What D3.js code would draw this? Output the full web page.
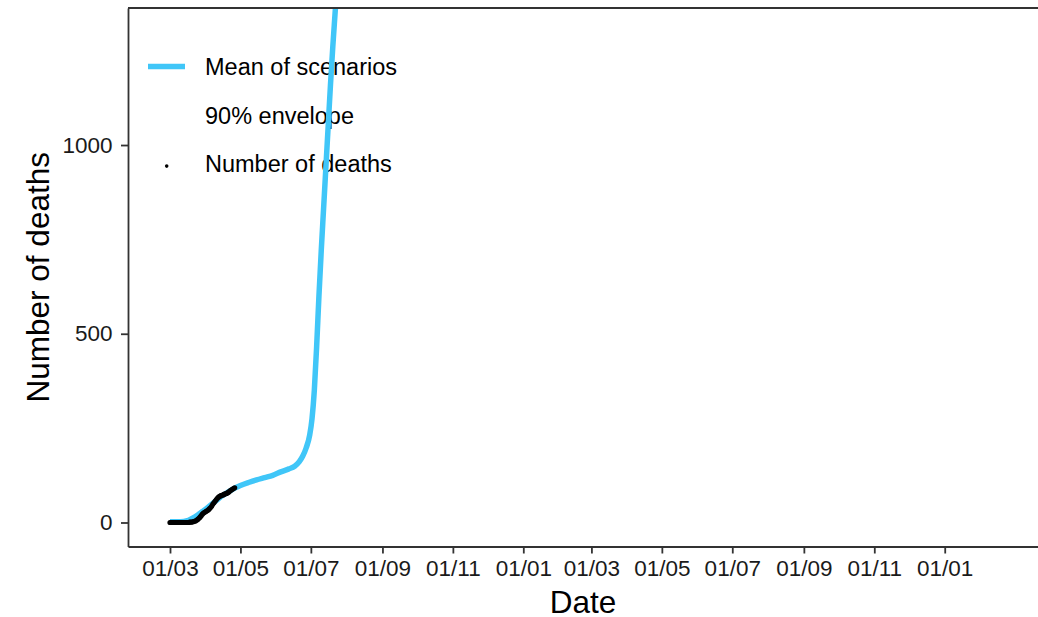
<!DOCTYPE html>
<html>
<head>
<meta charset="utf-8">
<script src="https://cdn.jsdelivr.net/npm/d3@7"></script>
<style>
  html, body { margin: 0; padding: 0; background: #fff; }
  svg { display: block; font-family: "Liberation Sans", Arial, Helvetica, sans-serif; }
</style>
</head>
<body>
<svg id="chart" width="1038" height="617"></svg>
<script>
// Mean of the simulated scenarios (cumulative deaths)
const meanDates = [
  "2020-03-01","2020-03-08","2020-03-13","2020-03-17","2020-03-21","2020-03-25",
  "2020-03-29","2020-04-02","2020-04-06","2020-04-10","2020-04-14","2020-04-18",
  "2020-04-22","2020-04-26","2020-05-01","2020-05-08","2020-05-15","2020-05-22",
  "2020-05-29","2020-06-05","2020-06-12","2020-06-17","2020-06-21","2020-06-24",
  "2020-06-27","2020-06-30","2020-07-02","2020-07-04","2020-07-06","2020-07-08",
  "2020-07-10","2020-07-12","2020-07-14","2020-07-16","2020-07-18","2020-07-20",
  "2020-07-22","2020-07-24","2020-07-27"
];
const meanValues = [
  2, 2, 3, 6, 12, 20,
  29, 38, 48, 58, 68, 76,
  84, 91, 98, 106, 113, 119,
  125, 134, 142, 149, 161, 176,
  198, 232, 275, 350, 465, 600,
  720, 830, 940, 1050, 1160, 1260,
  1350, 1440, 1570
];

// Observed cumulative deaths, one value per day from 1 March 2020
const obsStart = "2020-03-01";
const obsValues = [
  0, 0, 0, 0, 0, 0, 0, 0, 0, 0,
  0, 0, 0, 0, 0, 0, 0, 1, 1, 1,
  2, 3, 4, 6, 8, 11, 14, 18, 22, 25,
  27, 29, 31, 33, 36, 39, 43, 48, 52, 56,
  60, 64, 67, 69, 71, 72, 73, 75, 76, 77,
  79, 81, 84, 86, 88, 90, 92
];

// 90% envelope of the scenarios (no band drawn)
const envelopeDates = [];
const envelopeLow = [];
const envelopeHigh = [];

const xTickStart = "2020-03-01";
const xTickEnd = "2022-01-01";
const yTicks = [0, 500, 1000];
const legendLabels = ["Mean of scenarios", "90% envelope", "Number of deaths"];
const xTitle = "Date";
const yTitle = "Number of deaths";

const xDomain = ["2020-01-24T15:00:00Z", "2022-03-22T19:00:00Z"];
const yDomain = [-63.6, 1363];

const W = 1038, H = 617;
const panel = { left: 128, right: 1038, top: 8, bottom: 546.5 };
const BLUE = "#40C6F8";
const AXIS = "#333333";
const FONT_TICK = 22.5;
const FONT_LEGEND = 23.5;
const FONT_TITLE = 31.5;

const parse = d3.utcParse("%Y-%m-%d");
const meanData = meanDates.map((d, i) => ({ date: parse(d), value: meanValues[i] }));
const obsData = obsValues.map((v, i) => ({ date: d3.utcDay.offset(parse(obsStart), i), value: v }));

const x = d3.scaleUtc()
  .domain(xDomain.map(d => new Date(d)))
  .range([panel.left, panel.right]);
const y = d3.scaleLinear()
  .domain(yDomain)
  .range([panel.bottom, panel.top]);

const svg = d3.select("#chart");
svg.append("rect").attr("width", W).attr("height", H).attr("fill", "#fff");

svg.append("defs").append("clipPath").attr("id", "panel-clip")
  .append("rect")
  .attr("x", panel.left).attr("y", panel.top)
  .attr("width", panel.right - panel.left)
  .attr("height", panel.bottom - panel.top);

// Legend inside the panel (drawn beneath the data layers)
const legend = svg.append("g").attr("class", "legend");
const rowY = [66.5, 114.8, 163.1];
legend.append("line")
  .attr("x1", 148).attr("x2", 185)
  .attr("y1", rowY[0]).attr("y2", rowY[0])
  .attr("stroke", BLUE).attr("stroke-width", 5.5);
legend.append("circle")
  .attr("cx", 166.7).attr("cy", rowY[2] + 3)
  .attr("r", 1.8).attr("fill", "#000");
legend.selectAll("text")
  .data(legendLabels)
  .join("text")
  .attr("x", 205)
  .attr("y", (d, i) => rowY[i] + 8.7)
  .attr("font-size", FONT_LEGEND)
  .attr("fill", "#000")
  .text(d => d);

// Data layers
const plot = svg.append("g").attr("clip-path", "url(#panel-clip)");

if (envelopeDates.length) {
  plot.append("path")
    .datum(envelopeDates.map((d, i) => ({ date: parse(d), lo: envelopeLow[i], hi: envelopeHigh[i] })))
    .attr("fill", BLUE).attr("fill-opacity", 0.3)
    .attr("d", d3.area().x(d => x(d.date)).y0(d => y(d.lo)).y1(d => y(d.hi)));
}

plot.append("path")
  .datum(meanData)
  .attr("fill", "none")
  .attr("stroke", BLUE)
  .attr("stroke-width", 5.5)
  .attr("stroke-linejoin", "round")
  .attr("d", d3.line().curve(d3.curveMonotoneX).x(d => x(d.date)).y(d => y(d.value)));

plot.selectAll("circle.obs")
  .data(obsData)
  .join("circle")
  .attr("class", "obs")
  .attr("cx", d => x(d.date))
  .attr("cy", d => y(d.value))
  .attr("r", 2.6)
  .attr("fill", "#000");

// Axes
const xTickValues = d3.utcMonth.every(2).range(parse(xTickStart), d3.utcDay.offset(parse(xTickEnd), 1));
const xAxis = d3.axisBottom(x)
  .tickValues(xTickValues)
  .tickFormat(d3.utcFormat("%d/%m"))
  .tickSize(7)
  .tickSizeOuter(0)
  .tickPadding(7);
const gx = svg.append("g")
  .attr("transform", `translate(0,${panel.bottom})`)
  .call(xAxis);

const yAxis = d3.axisLeft(y)
  .tickValues(yTicks)
  .tickFormat(d3.format("d"))
  .tickSize(7)
  .tickSizeOuter(0)
  .tickPadding(8.5);
const gy = svg.append("g")
  .attr("transform", `translate(${panel.left},0)`)
  .call(yAxis);

[gx, gy].forEach(g => {
  g.select(".domain").attr("stroke", AXIS).attr("stroke-width", 1.8);
  g.selectAll(".tick line").attr("stroke", AXIS).attr("stroke-width", 1.8);
  g.selectAll(".tick text")
    .attr("font-size", FONT_TICK)
    .attr("font-family", "Liberation Sans, Arial, sans-serif")
    .attr("fill", "#1a1a1a");
});

// Top border of the panel
svg.append("line")
  .attr("x1", panel.left).attr("x2", panel.right)
  .attr("y1", panel.top).attr("y2", panel.top)
  .attr("stroke", AXIS).attr("stroke-width", 1.8);

// Axis titles
svg.append("text")
  .attr("x", (panel.left + panel.right) / 2)
  .attr("y", 613)
  .attr("text-anchor", "middle")
  .attr("font-size", FONT_TITLE)
  .attr("fill", "#000")
  .text(xTitle);

svg.append("text")
  .attr("transform", `translate(48.5,${(panel.top + panel.bottom) / 2}) rotate(-90)`)
  .attr("text-anchor", "middle")
  .attr("font-size", FONT_TITLE)
  .attr("fill", "#000")
  .text(yTitle);
</script>
</body>
</html>
